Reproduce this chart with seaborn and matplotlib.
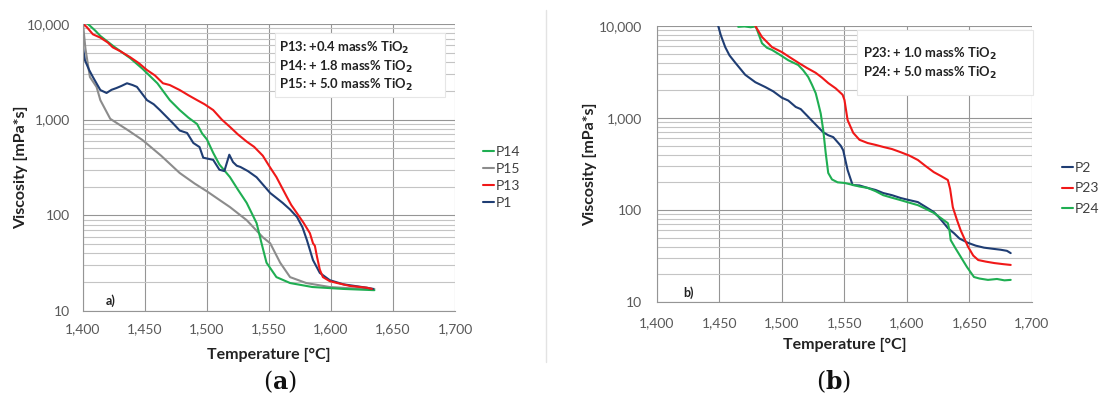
import numpy as np
import pandas as pd
import matplotlib
matplotlib.use("Agg")
import matplotlib.pyplot as plt
from matplotlib.lines import Line2D
from matplotlib.patches import Rectangle
from matplotlib.ticker import FuncFormatter, LogLocator, NullFormatter
import seaborn as sns

# ---- panel (a) data: temperature [°C] and viscosity [mPa*s]
p15_T = [1400, 1402, 1405.6, 1411, 1414, 1422, 1436, 1448, 1463, 1478, 1490, 1500, 1510,
         1518.5, 1532, 1545, 1551, 1559, 1567, 1580, 1599, 1615, 1635]
p15_v = [10000, 5500, 2790, 2190, 1600, 1020, 780, 612, 420, 277, 215, 178, 145,
         122, 89, 59, 51, 32, 22.6, 19.6, 17.8, 17.3, 17]

p14_T = [1404, 1410, 1414, 1425, 1438, 1448, 1460, 1470, 1478, 1485, 1492, 1496, 1500,
         1505, 1510, 1518.5, 1525, 1532, 1540, 1544, 1548, 1556, 1567, 1585, 1610, 1635]
p14_v = [10000, 8500, 7500, 5800, 4400, 3400, 2400, 1600, 1260, 1050, 900, 720, 620,
         450, 340, 251, 185, 135, 83, 51, 32, 22.6, 19.6, 17.8, 17, 16.5]

p13_T = [1400, 1403, 1408, 1414, 1420, 1424, 1430, 1438, 1445, 1451.6, 1458, 1464.5, 1470,
         1478, 1485, 1492, 1498, 1505, 1512, 1518.5, 1525, 1532, 1538, 1545, 1550, 1556,
         1560, 1564.5, 1568, 1572.6, 1578, 1583, 1585.5, 1587, 1588.7, 1591, 1593.5, 1599,
         1605, 1615, 1629, 1633]
p13_v = [10000, 9300, 7800, 7200, 6400, 5700, 5200, 4500, 3900, 3300, 2900, 2400, 2300,
         2040, 1800, 1600, 1450, 1260, 1000, 840, 700, 590, 520, 420, 330, 251,
         200, 155, 128, 105, 83, 65, 51, 48, 37, 27, 22.6, 20.5,
         19.6, 18.3, 17.5, 17]

p1_T = [1400, 1401.6, 1405, 1408, 1414, 1419, 1423, 1427, 1431, 1435.5, 1440, 1443.5,
        1451.6, 1457, 1462, 1472.6, 1478, 1484, 1489, 1494, 1497, 1505, 1510, 1514, 1518,
        1521, 1524, 1527, 1533, 1540, 1551, 1561, 1567, 1572.6, 1577, 1580.6, 1585.5,
        1591, 1599, 1610, 1629, 1634]
p1_v = [5600, 4170, 3300, 2790, 2040, 1900, 2050, 2140, 2250, 2400, 2300, 2200,
        1600, 1450, 1260, 915, 770, 725, 570, 517, 400, 380, 300, 290, 430,
        360, 330, 320, 290, 250, 171, 135, 115, 96, 75, 55, 34,
        25, 21, 19, 17.5, 17]

# ---- panel (b) data
p2_T = [1449, 1451, 1454.6, 1458, 1462.6, 1470.6, 1478.7, 1486.7, 1493, 1500, 1505, 1511,
        1515, 1521, 1529, 1533, 1537, 1541, 1547, 1549, 1552.5, 1556.5, 1562, 1568.5,
        1575, 1581, 1588, 1595, 1602, 1608.7, 1615, 1621.5, 1625, 1629.5, 1633, 1637.6,
        1642, 1648.8, 1655, 1661.6, 1668, 1675, 1680, 1683]
p2_v = [10000, 8000, 5900, 4800, 4000, 2950, 2450, 2170, 1950, 1660, 1550, 1320,
        1250, 1030, 795, 700, 650, 620, 500, 445, 272, 187, 185, 174,
        165, 153, 145, 135, 128, 122, 108, 95, 85, 72, 63, 56,
        49, 44, 41, 39, 38, 37, 36, 34]

p23_T = [1478.7, 1484, 1492, 1500, 1506, 1513, 1520, 1527, 1532, 1537, 1543, 1548.5,
         1550, 1552.5, 1557, 1562, 1568.5, 1575, 1581, 1588, 1595, 1602, 1608.7, 1615,
         1621.5, 1627, 1632.7, 1634.5, 1636.7, 1640, 1643, 1648.8, 1653, 1657, 1663,
         1670, 1677, 1683]
p23_v = [10000, 7600, 5900, 5200, 4600, 4000, 3500, 3100, 2750, 2400, 2100, 1790,
         1570, 950, 690, 580, 535, 510, 485, 460, 425, 390, 350, 300,
         258, 235, 212, 170, 107, 78, 60, 40, 32, 28.6, 27.5,
         26.5, 25.8, 25.3]

p24_T = [1465, 1470, 1475, 1479, 1481, 1484, 1488, 1492, 1498, 1505, 1513, 1517, 1521,
         1524, 1527, 1529, 1531, 1533, 1535, 1537, 1540, 1544.5, 1550, 1555, 1562,
         1568.5, 1575, 1581, 1588, 1595, 1602, 1608.7, 1615, 1621.5, 1627, 1632.7, 1634,
         1635, 1639, 1643, 1648, 1653.6, 1658, 1664.8, 1672, 1678, 1683]
p24_v = [9800, 9900, 9700, 9900, 8400, 6500, 5800, 5500, 4900, 4250, 3770, 3300, 2790,
         2300, 1860, 1450, 1120, 740, 415, 253, 215, 200, 197, 190, 180,
         174, 160, 145, 136, 128, 120, 113, 103, 93, 82, 72, 60,
         47, 38, 31, 24, 18.7, 18, 17.4, 17.8, 17.2, 17.4]

order_a = ["P14", "P15", "P13", "P1"]
order_b = ["P2", "P23", "P24"]
notes_a = [r"P13: +0.4 mass% TiO$_\mathbf{2}$",
           r"P14: + 1.8 mass% TiO$_\mathbf{2}$",
           r"P15: + 5.0 mass% TiO$_\mathbf{2}$"]
notes_b = [r"P23: + 1.0 mass% TiO$_\mathbf{2}$",
           r"P24: + 5.0 mass% TiO$_\mathbf{2}$"]

colors = {"P14": "#1fae52", "P15": "#8c8c8c", "P13": "#f01818", "P1": "#1f3d73",
          "P2": "#1f3d73", "P23": "#f01818", "P24": "#1fae52"}


def long_df(series):
    frames = [pd.DataFrame({"T": t, "v": v, "sample": name}) for name, t, v in series]
    return pd.concat(frames, ignore_index=True)


df_a = long_df([("P15", p15_T, p15_v), ("P14", p14_T, p14_v),
                ("P1", p1_T, p1_v), ("P13", p13_T, p13_v)])
df_b = long_df([("P2", p2_T, p2_v), ("P24", p24_T, p24_v), ("P23", p23_T, p23_v)])

sns.set_style("white")
plt.rcParams["font.family"] = ["Lato", "DejaVu Sans"]
plt.rcParams["mathtext.fontset"] = "dejavusans"

fig = plt.figure(figsize=(10.99, 3.95), dpi=100)
ax_a = fig.add_axes([0.0755, 0.2127, 0.3385, 0.7266])
ax_b = fig.add_axes([0.5978, 0.2354, 0.3412, 0.6987])


def style_axis(ax, df, draw_order, legend_order, notes, box, note_x, note_y, leg_anchor,
               leg_spacing, tag, tag_xy, ylab_x, xlab_y, pad):
    for name in draw_order:
        sub = df[df["sample"] == name]
        sns.lineplot(data=sub, x="T", y="v", ax=ax, color=colors[name], lw=1.5,
                     sort=False, estimator=None, legend=False)
    ax.set_yscale("log")
    ax.set_xlim(1400, 1700)
    ax.set_ylim(10, 10000)
    ax.set_xticks(np.arange(1400, 1701, 50))
    ax.xaxis.set_major_formatter(FuncFormatter(lambda x, p: f"{x:,.0f}"))
    ax.yaxis.set_major_locator(LogLocator(base=10))
    ax.yaxis.set_minor_locator(LogLocator(base=10, subs=np.arange(2, 10)))
    ax.yaxis.set_major_formatter(FuncFormatter(lambda y, p: f"{y:,.0f}"))
    ax.yaxis.set_minor_formatter(NullFormatter())
    ax.tick_params(which="both", length=0, labelsize=10, labelcolor="#595959", pad=pad)
    ax.grid(True, which="major", axis="both", color="#959595", lw=0.8)
    ax.grid(True, which="minor", axis="y", color="#c4c4c4", lw=0.8)
    for s in ["top", "right"]:
        ax.spines[s].set_visible(False)
    for s in ["left", "bottom"]:
        ax.spines[s].set_color("#959595")
        ax.spines[s].set_linewidth(0.8)
    ax.set_xlabel("Temperature [°C]", fontsize=11.5, fontweight="bold", color="#222222")
    ax.set_ylabel("Viscosity [mPa*s]", fontsize=11.5, fontweight="bold", color="#222222")
    ax.yaxis.set_label_coords(ylab_x, 0.5)
    ax.xaxis.set_label_coords(0.5, xlab_y)

    x0, y0, x1, y1 = box
    ax.add_patch(Rectangle((x0, y0), x1 - x0, y1 - y0, transform=ax.transAxes,
                           facecolor="white", edgecolor="#e6e6e6", lw=0.8,
                           zorder=3, clip_on=False))
    for txt, yy in zip(notes, note_y):
        ax.text(note_x, yy, txt, transform=ax.transAxes, fontsize=9.4, fontweight="bold",
                color="#222222", va="center", ha="left", zorder=4)
    ax.text(tag_xy[0], tag_xy[1], tag, transform=ax.transAxes, fontsize=9,
            fontweight="bold", color="#222222", va="center", ha="left")

    handles = [Line2D([], [], color=colors[n], lw=1.5) for n in legend_order]
    ax.legend(handles, legend_order, loc="upper left", bbox_to_anchor=leg_anchor,
              frameon=False, fontsize=10, handlelength=0.8, handletextpad=0.15,
              labelspacing=leg_spacing, borderaxespad=0, borderpad=0,
              labelcolor="#404040")


style_axis(ax_a, df_a, ["P15", "P14", "P1", "P13"], order_a, notes_a,
           (0.516, 0.746, 0.973, 0.969), 0.527, [0.916, 0.850, 0.787],
           (1.075, 0.576), 0.36, "a)", (0.06, 0.035), -0.148, -0.128, 9)
style_axis(ax_b, df_b, ["P2", "P24", "P23"], order_b, notes_b,
           (0.533, 0.75, 1.003, 0.985), 0.549, [0.899, 0.830],
           (1.08, 0.508), 0.62, "b)", (0.07, 0.035), -0.16, -0.13, 11)

# divider between panels
fig.add_artist(Line2D([546 / 1099, 546 / 1099], [1 - 10 / 395, 1 - 362 / 395],
                      transform=fig.transFigure, color="#e3e3e3", lw=1))

# panel captions
for xc, letter in [(280, "a"), (834, "b")]:
    fig.text(xc / 1099, 1 - 382 / 395, "(" + r"$\mathbf{" + letter + "}$" + ")",
             ha="center", va="center", fontsize=17, family="DejaVu Serif",
             math_fontfamily="dejavuserif", color="#111111")

fig.savefig("out.png", dpi=100, facecolor="white")
